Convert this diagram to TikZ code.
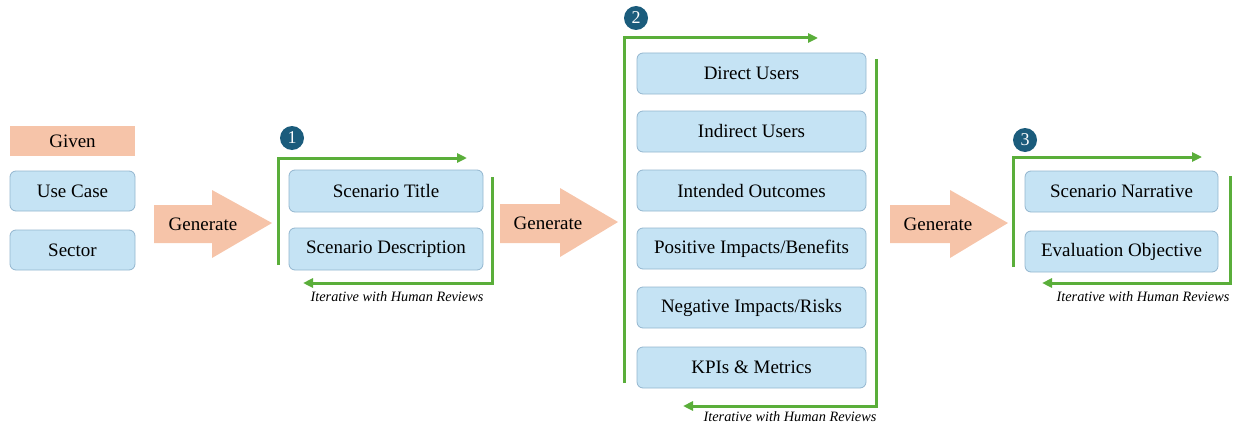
\documentclass[tikz,border=0pt]{standalone}
\usepackage{fontspec}
\setmainfont{Liberation Serif}
\newfontfamily\tnr{Liberation Serif}
\usetikzlibrary{arrows.meta}
\definecolor{boxblue}{HTML}{C5E3F4}
\definecolor{boxedge}{HTML}{93B6CF}
\definecolor{peach}{HTML}{F6C4A9}
\definecolor{numteal}{HTML}{1B5C7C}
\definecolor{loopgreen}{HTML}{5AAE3A}
\begin{document}
\begin{tikzpicture}[x=1pt,y=-1pt,
  box/.style={draw=boxedge, line width=0.8pt, fill=boxblue, rounded corners=6pt,
    inner sep=0pt, font=\tnr\fontsize{19}{20}\selectfont},
  givenbox/.style={fill=peach, inner sep=0pt, font=\tnr\fontsize{19}{20}\selectfont},
  genarrow/.style={fill=peach},
  gentext/.style={font=\tnr\fontsize{19}{20}\selectfont},
  numcirc/.style={circle, fill=numteal, text=white, inner sep=0pt, minimum size=24pt,
    font=\tnr\fontsize{18}{18}\selectfont},
  loop/.style={draw=loopgreen, line width=3pt, -{Triangle[length=10pt,width=9pt]}},
  itext/.style={font=\tnr\fontsize{14.3}{16}\selectfont\itshape}]
\useasboundingbox (0,0) rectangle (1236,428);

% Given column
\node[givenbox, minimum width=125, minimum height=30] (given) at (72.5,141) {Given};
\node[box, minimum width=125, minimum height=40] (usecase) at (72.5,191) {Use Case};
\node[box, minimum width=125, minimum height=40] (sector) at (72.5,250) {Sector};

% Generate arrows
\fill[genarrow] (154,205) -- (212,205) -- (212,190) -- (272,223) -- (212,258) -- (212,243) -- (154,243) -- cycle;
\node[gentext] (gen1) at (203,224) {Generate};
\fill[genarrow] (500,204) -- (560,204) -- (560,188) -- (618,222) -- (560,257) -- (560,243) -- (500,243) -- cycle;
\node[gentext] (gen2) at (548,223) {Generate};
\fill[genarrow] (890,205) -- (950,205) -- (950,190) -- (1008,223) -- (950,258) -- (950,243) -- (890,243) -- cycle;
\node[gentext] (gen3) at (938,224) {Generate};

% Stage 1
\node[numcirc] (n1) at (292,138) {1};
\node[box, minimum width=194, minimum height=42] (title) at (386,191) {Scenario Title};
\node[box, minimum width=194, minimum height=42] (desc) at (386,249) {Scenario Description};
\coordinate (l1a) at (278,265); \coordinate (l1b) at (278,158); \coordinate (l1c) at (467,158);
\coordinate (r1a) at (492,177); \coordinate (r1b) at (492,283); \coordinate (r1c) at (303,283);
\draw[loop] (l1a) -- (l1b) -- (l1c);
\draw[loop] (r1a) -- (r1b) -- (r1c);
\node[itext] (it1) at (397,297) {Iterative with Human Reviews};

% Stage 2
\node[numcirc] (n2) at (636,18) {2};
\node[box, minimum width=229, minimum height=41] (du) at (751.5,73.5) {Direct Users};
\node[box, minimum width=229, minimum height=41] (iu) at (751.5,131.5) {Indirect Users};
\node[box, minimum width=229, minimum height=41] (io) at (751.5,190.5) {Intended Outcomes};
\node[box, minimum width=229, minimum height=41] (pi) at (751.5,248.5) {Positive Impacts/Benefits};
\node[box, minimum width=229, minimum height=41] (ni) at (751.5,307.5) {Negative Impacts/Risks};
\node[box, minimum width=229, minimum height=41] (kp) at (751.5,367.5) {KPIs \& Metrics};
\coordinate (l2a) at (624,383); \coordinate (l2b) at (624,38); \coordinate (l2c) at (818,38);
\coordinate (r2a) at (876,59); \coordinate (r2b) at (876,406); \coordinate (r2c) at (683,406);
\draw[loop] (l2a) -- (l2b) -- (l2c);
\draw[loop] (r2a) -- (r2b) -- (r2c);
\node[itext] (it2) at (790,417) {Iterative with Human Reviews};

% Stage 3
\node[numcirc] (n3) at (1025,140) {3};
\node[box, minimum width=193, minimum height=41] (sn) at (1121.5,191.5) {Scenario Narrative};
\node[box, minimum width=193, minimum height=41] (eo) at (1121.5,251.5) {Evaluation Objective};
\coordinate (l3a) at (1013,267); \coordinate (l3b) at (1013,157); \coordinate (l3c) at (1202,157);
\coordinate (r3a) at (1230,176); \coordinate (r3b) at (1230,283); \coordinate (r3c) at (1042,283);
\draw[loop] (l3a) -- (l3b) -- (l3c);
\draw[loop] (r3a) -- (r3b) -- (r3c);
\node[itext] (it3) at (1143,297) {Iterative with Human Reviews};
\end{tikzpicture}
\end{document}
